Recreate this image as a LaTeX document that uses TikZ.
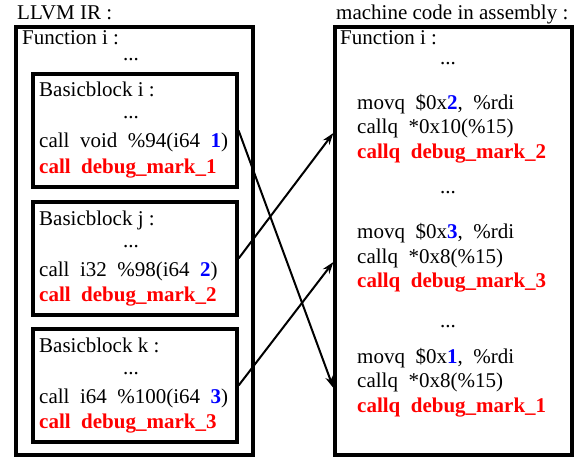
\documentclass[tikz,border=0pt]{standalone}
\usepackage{fontspec}
\setmainfont{Liberation Serif}
\usetikzlibrary{arrows.meta}
\definecolor{mred}{RGB}{255,0,0}
\definecolor{mblue}{RGB}{0,0,255}
\tikzset{
  box/.style={draw, line width=3.2pt, inner sep=0pt},
  txt/.style={anchor=base west, inner sep=0pt, font=\fontsize{21}{24}\selectfont},
  dots/.style={anchor=base, inner sep=0pt, font=\fontsize{21}{24}\selectfont},
  dbgline/.style={txt, text=mred, font=\fontsize{21}{24}\selectfont\bfseries},
  conn/.style={line width=2pt, -{Stealth[length=12pt,width=8pt]}}
}
\newcommand{\bl}[1]{\textcolor{mblue}{\textbf{#1}}}
\begin{document}
\begin{tikzpicture}[x=1pt,y=-1pt]
\useasboundingbox (0,0) rectangle (580,457);
% left side
\node[txt] (ltitle) at (17,20) {LLVM IR :};
\node[box, minimum width=237pt, minimum height=428pt] (lbox) at (134.5,241) {};
\node[txt] (lfun) at (22,45) {Function i :};
\node[dots] (ldots) at (131,61) {...};
% basic block i
\node[box, minimum width=204pt, minimum height=113pt] (bbi) at (135,130.5) {};
\node[txt] (bbit) at (39,97) {Basicblock i :};
\node[dots] (bbid) at (131,119) {...};
\node[txt] (bbic) at (39,148) {call~~void~~\%94(i64~~\bl{1})};
\node[dbgline] (bbim) at (39,173) {call~~debug\_mark\_1};
% basic block j
\node[box, minimum width=204pt, minimum height=113pt] (bbj) at (135,258.5) {};
\node[txt] (bbjt) at (39,225) {Basicblock j :};
\node[dots] (bbjd) at (131,247) {...};
\node[txt] (bbjc) at (39,276) {call~~i32~~\%98(i64~~\bl{2})};
\node[dbgline] (bbjm) at (39,301) {call~~debug\_mark\_2};
% basic block k
\node[box, minimum width=204pt, minimum height=113pt] (bbk) at (135,385.5) {};
\node[txt] (bbkt) at (39,352) {Basicblock k :};
\node[dots] (bbkd) at (131,374) {...};
\node[txt] (bbkc) at (39,403) {call~~i64~~\%100(i64~~\bl{3})};
\node[dbgline] (bbkm) at (39,428) {call~~debug\_mark\_3};
% right side
\node[txt] (rtitle) at (336,20) {machine code in assembly :};
\node[box, minimum width=237pt, minimum height=428pt] (rbox) at (453.5,241) {};
\node[txt] (rfun) at (340,45) {Function i :};
\node[dots] (rd1) at (448,65) {...};
\node[txt] (m2) at (357,110) {movq~~\$0x\bl{2},~~\%rdi};
\node[txt] (c2) at (357,134) {callq~~*0x10(\%15)};
\node[dbgline] (d2) at (357,158) {callq~~debug\_mark\_2};
\node[dots] (rd2) at (448,193) {...};
\node[txt] (m3) at (357,238) {movq~~\$0x\bl{3},~~\%rdi};
\node[txt] (c3) at (357,263) {callq~~*0x8(\%15)};
\node[dbgline] (d3) at (357,287) {callq~~debug\_mark\_3};
\node[dots] (rd3) at (448,327) {...};
\node[txt] (m1) at (357,363) {movq~~\$0x\bl{1},~~\%rdi};
\node[txt] (c1) at (357,387) {callq~~*0x8(\%15)};
\node[dbgline] (d1) at (357,412) {callq~~debug\_mark\_1};
% connectors
\coordinate (t2) at (rbox.west |- 0,133);
\coordinate (t3) at (rbox.west |- 0,262);
\coordinate (t1) at (rbox.west |- 0,388);
\draw[conn] (bbi.east) -- (t1);
\draw[conn] (bbj.east) -- (t2);
\draw[conn] (bbk.east) -- (t3);
\end{tikzpicture}
\end{document}
